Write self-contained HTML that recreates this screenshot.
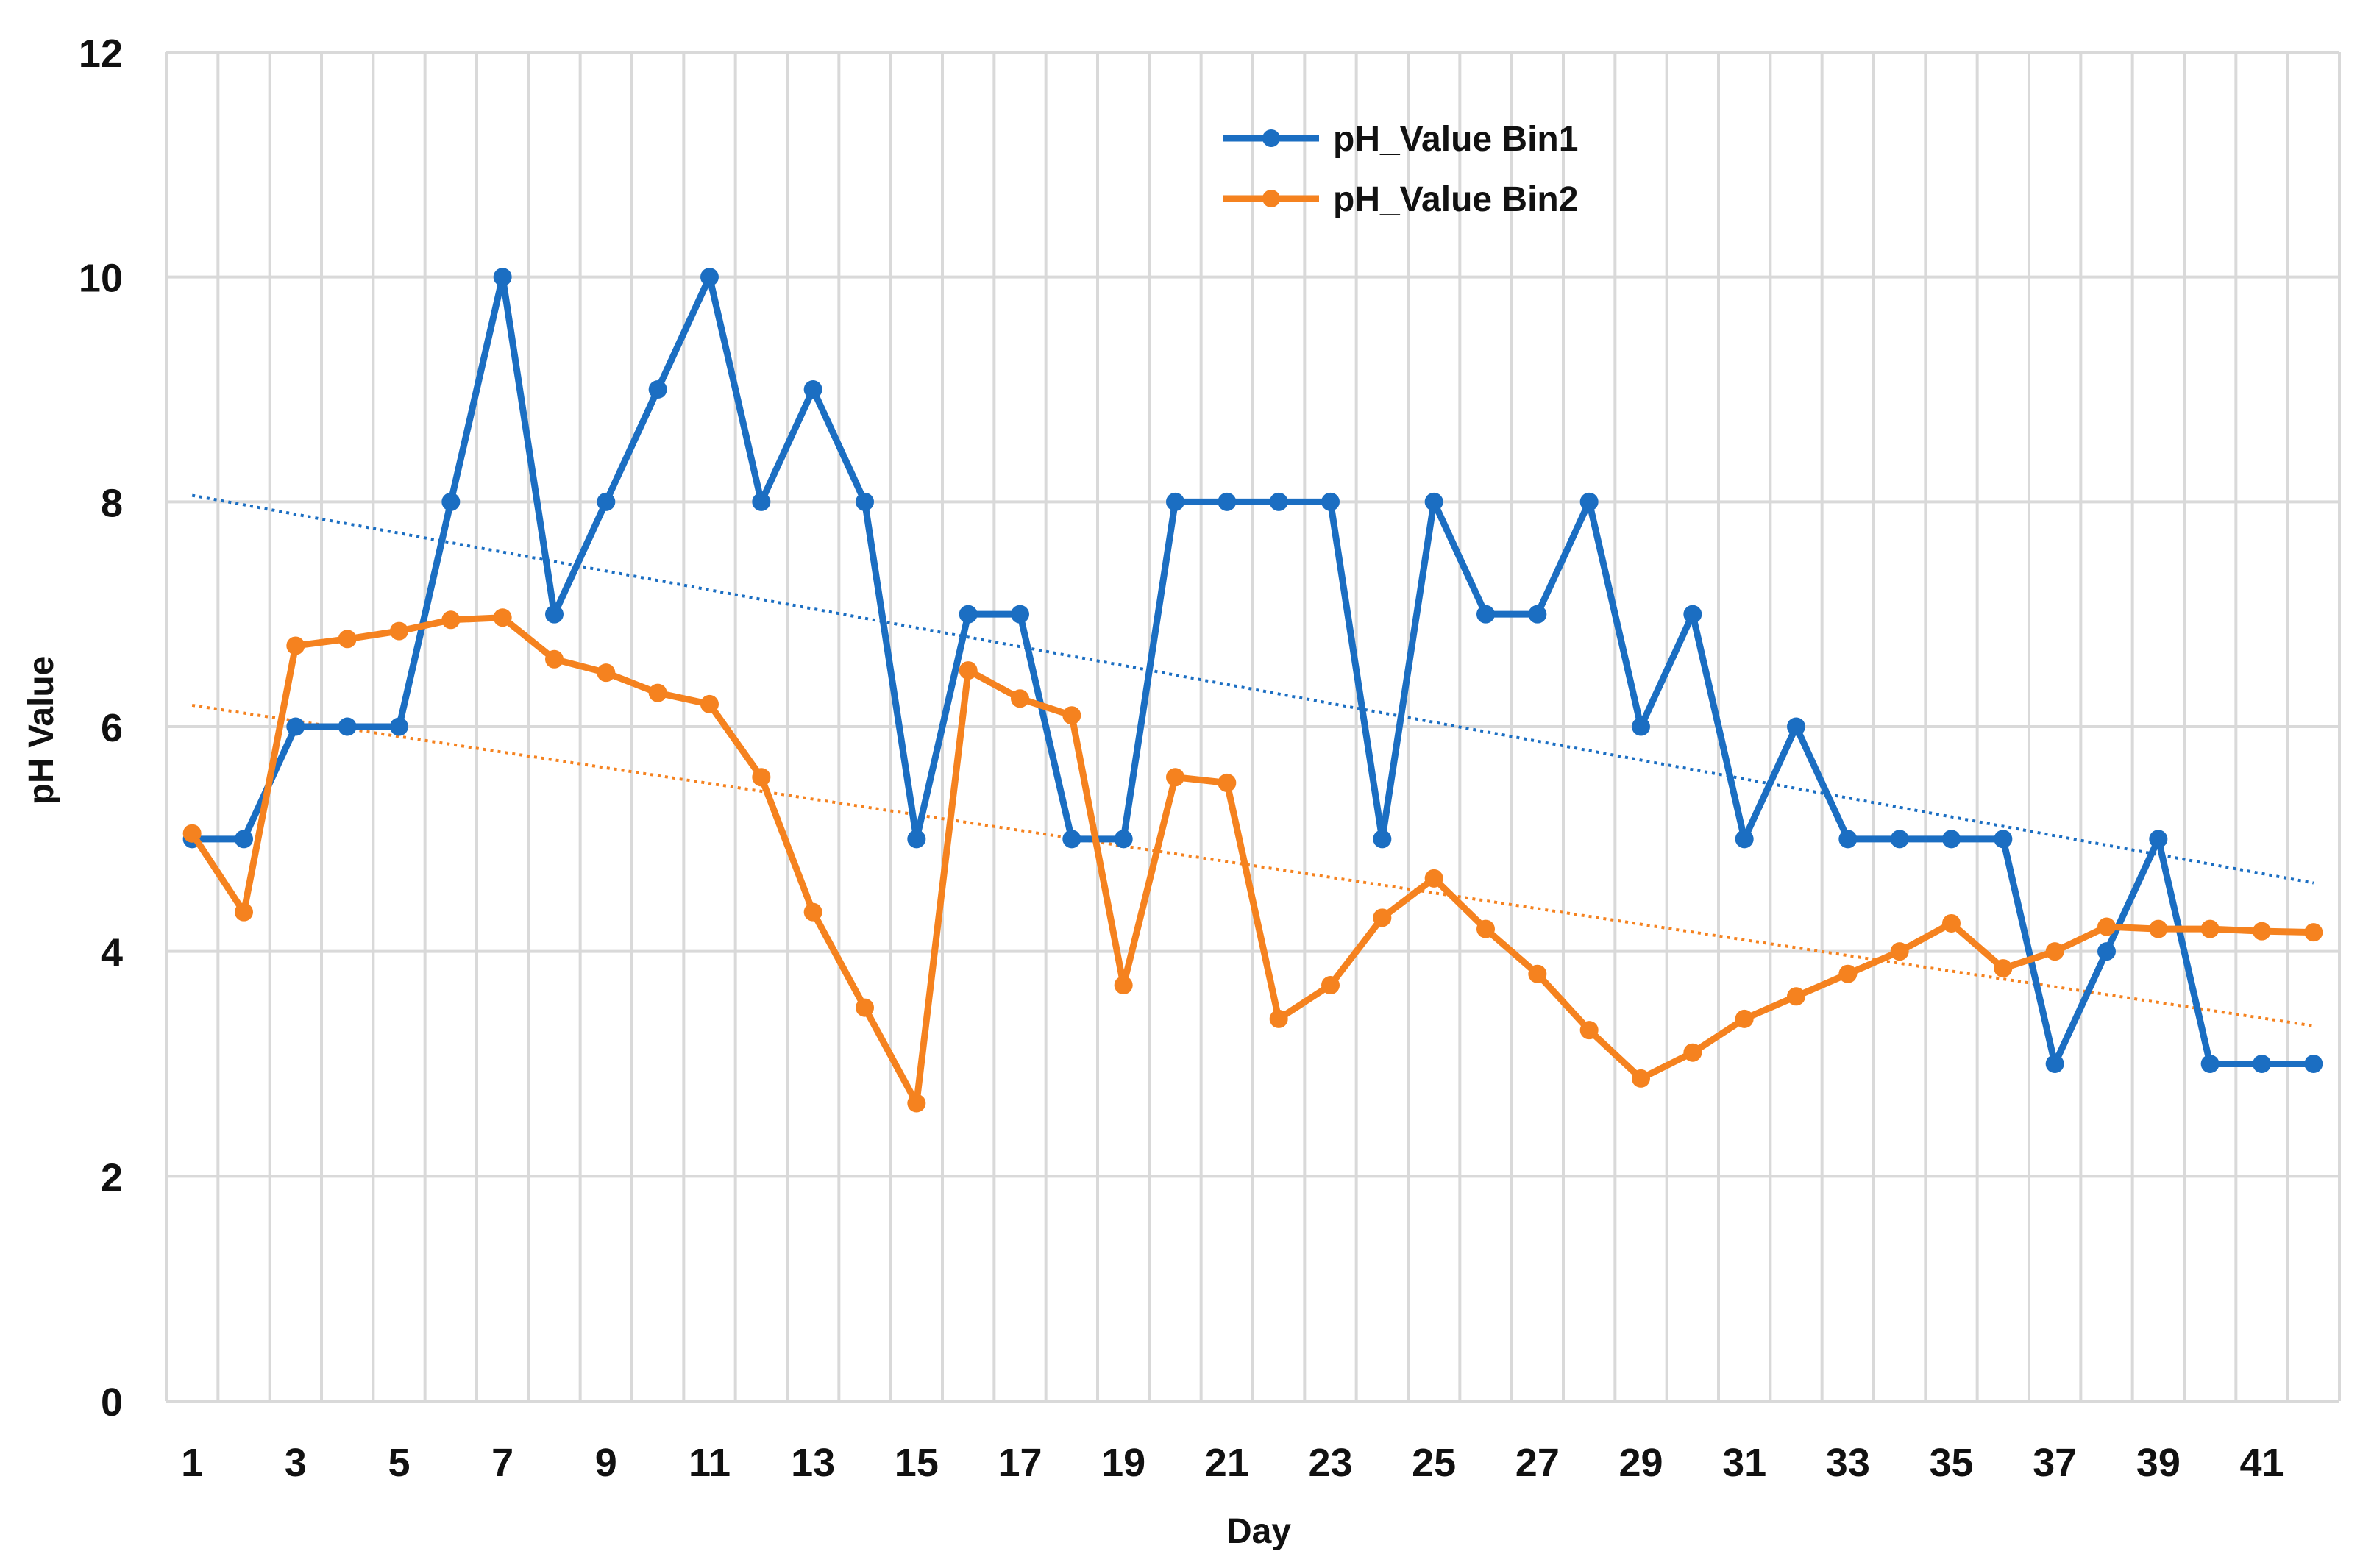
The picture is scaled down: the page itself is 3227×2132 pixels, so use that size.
<!DOCTYPE html>
<html><head><meta charset="utf-8"><style>
html,body{margin:0;padding:0;background:#fff;}
svg{display:block;font-family:"Liberation Sans",sans-serif;}
</style></head><body>
<svg id="chart" width="3227" height="2132" viewBox="0 0 3227 2132" xmlns="http://www.w3.org/2000/svg">
<rect width="3227" height="2132" fill="#fff"/>
<g id="grid"></g>
<g id="trends"></g>
<g id="series"></g>
<g id="axes"></g>
<text x="0" y="0" transform="translate(72,993) rotate(-90)" text-anchor="middle" font-size="48" font-weight="bold" fill="#111">pH Value</text>
<text x="1711" y="2098" text-anchor="middle" font-size="48" font-weight="bold" fill="#111">Day</text>
<g>
  <g>
    <line x1="1663" y1="188" x2="1793" y2="188" stroke="#1b6ec2" stroke-width="9"/>
    <circle cx="1728" cy="188" r="12" fill="#1b6ec2"/>
    <text x="1812" y="205" font-size="48" font-weight="bold" fill="#111">pH_Value Bin1</text>
  </g>
  <g>
    <line x1="1663" y1="270" x2="1793" y2="270" stroke="#f5821f" stroke-width="9"/>
    <circle cx="1728" cy="270" r="12" fill="#f5821f"/>
    <text x="1812" y="287" font-size="48" font-weight="bold" fill="#111">pH_Value Bin2</text>
  </g>
</g>
</svg>
<script>
const days = Array.from({length:42},(_,i)=>i+1);
const bin1 = [5,5,6,6,6,8,10,7,8,9,10,8,9,8,5,7,7,5,5,8,8,8,8,5,8,7,7,8,6,7,5,6,5,5,5,5,3,4,5,3,3,3];
const bin2 = [5.05,4.35,6.72,6.78,6.85,6.95,6.97,6.6,6.48,6.3,6.2,5.55,4.35,3.5,2.65,6.5,6.25,6.1,3.7,5.55,5.5,3.4,3.7,4.3,4.65,4.2,3.8,3.3,2.87,3.1,3.4,3.6,3.8,4.0,4.25,3.85,4.0,4.22,4.2,4.2,4.18,4.17];
const yTicks = [0,2,4,6,8,10,12];
const xTickLabels = [1,3,5,7,9,11,13,15,17,19,21,23,25,27,29,31,33,35,37,39,41];

const NS="http://www.w3.org/2000/svg";
const L=226,R=3180,T=71,B=1905,N=42,YMAX=12;
const bw=(R-L)/N;
function xs(d){return L+(d-0.5)*bw;}
function ys(v){return B-(v/YMAX)*(B-T);}
function mk(tag,attrs,parent){const e=document.createElementNS(NS,tag);for(const k in attrs)e.setAttribute(k,attrs[k]);parent.appendChild(e);return e;}
const grid=document.getElementById('grid'),axes=document.getElementById('axes'),series=document.getElementById('series'),trends=document.getElementById('trends');
for(let i=0;i<=N;i++){
  const g=mk('line',{x1:L+i*bw,x2:L+i*bw,y1:T,y2:B,stroke:'#d9d9d9','stroke-width':4},grid);
  
  
}
yTicks.forEach(v=>{
  const g=mk('line',{x1:L,x2:R,y1:ys(v),y2:ys(v),stroke:'#d9d9d9','stroke-width':4},grid);
  
  
  const t=mk('text',{x:167,y:ys(v)+20,'text-anchor':'end','font-size':54,'font-weight':'bold',fill:'#111'},axes);
  t.textContent=v;
  
  
});
xTickLabels.forEach(d=>{
  const t=mk('text',{x:xs(d),y:2007,'text-anchor':'middle','font-size':54,'font-weight':'bold',fill:'#111'},axes);
  t.textContent=d;
  
  
});
function trend(vals,color,name){
  const n=vals.length;let sx=0,sy=0,sxy=0,sxx=0;
  days.forEach((d,i)=>{sx+=d;sy+=vals[i];sxy+=d*vals[i];sxx+=d*d;});
  const m=(n*sxy-sx*sy)/(n*sxx-sx*sx),b=(sy-m*sx)/n;
  const l=mk('line',{x1:xs(1),y1:ys(m*1+b),x2:xs(42),y2:ys(m*42+b),stroke:color,'stroke-width':4,'stroke-dasharray':'4 6'},trends);
  
  
}
trend(bin1,'#1b6ec2','trendline-bin1');
trend(bin2,'#f5821f','trendline-bin2');
function draw(vals,color,name){
  const g=mk('g',{},series);
  
  
  const p=mk('polyline',{points:vals.map((v,i)=>xs(days[i])+','+ys(v)).join(' '),fill:'none',stroke:color,'stroke-width':9,'stroke-linejoin':'round'},g);
  
  
  vals.forEach((v,i)=>{
    const c=mk('circle',{cx:xs(days[i]),cy:ys(v),r:12.5,fill:color},g);
    
    
  });
}
draw(bin1,'#1b6ec2','series-bin1');
draw(bin2,'#f5821f','series-bin2');
</script>
</body></html>
